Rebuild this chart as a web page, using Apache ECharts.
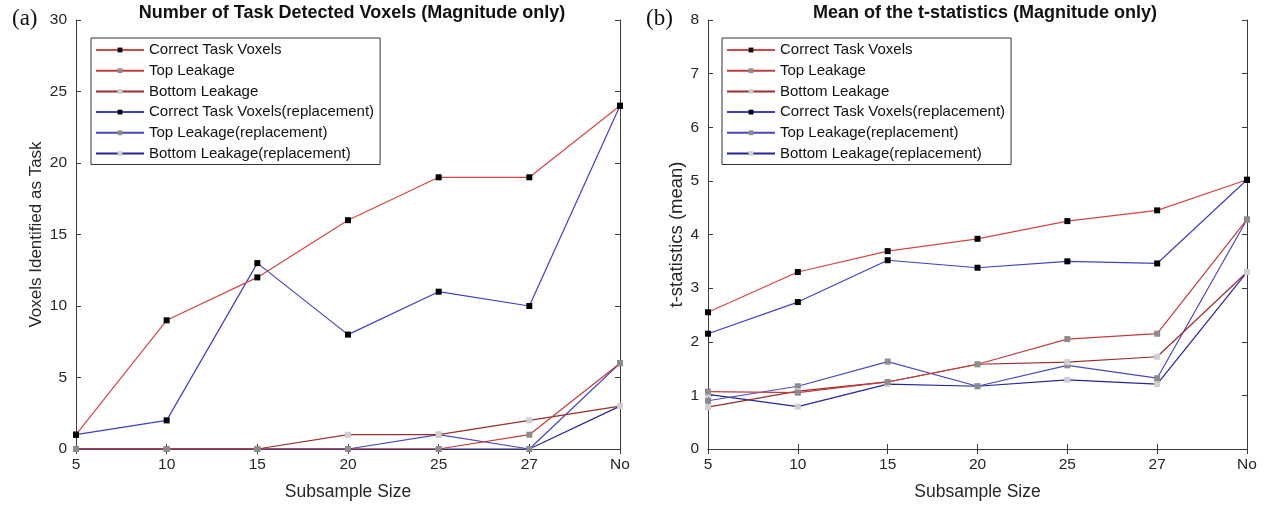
<!DOCTYPE html>
<html>
<head>
<meta charset="utf-8">
<script src="https://cdn.jsdelivr.net/npm/echarts@6/dist/echarts.min.js"></script>
<style>
  html, body { margin: 0; padding: 0; background: #fff; }
  #chart { width: 1276px; height: 506px; }
</style>
</head>
<body>
<div id="chart"></div>
<script>
// Subsample sizes shared by both panels
const categories = ['5', '10', '15', '20', '25', '27', 'No'];

// Panel (a): number of detected voxels
const countCorrect = [1, 9, 12, 16, 19, 19, 24];
const countTop = [0, 0, 0, 0, 0, 1, 6];
const countBottom = [0, 0, 0, 1, 1, 2, 3];
const countCorrectRep = [1, 2, 13, 8, 11, 10, 24];
const countTopRep = [0, 0, 0, 0, 1, 0, 6];
const countBottomRep = [0, 0, 0, 0, 0, 0, 3];

// Panel (b): mean t-statistics
const tCorrect = [2.55, 3.30, 3.69, 3.92, 4.25, 4.45, 5.02];
const tTop = [1.07, 1.05, 1.25, 1.58, 2.05, 2.15, 4.28];
const tBottom = [0.78, 1.08, 1.25, 1.58, 1.62, 1.72, 3.30];
const tCorrectRep = [2.15, 2.74, 3.52, 3.38, 3.50, 3.46, 5.02];
const tTopRep = [0.90, 1.17, 1.63, 1.17, 1.56, 1.32, 4.28];
const tBottomRep = [1.02, 0.79, 1.21, 1.17, 1.29, 1.21, 3.30];

const seriesNames = [
  'Correct Task Voxels', 'Top Leakage', 'Bottom Leakage',
  'Correct Task Voxels(replacement)', 'Top Leakage(replacement)', 'Bottom Leakage(replacement)'
];
const lineColors = ['#d64545', '#c23c3c', '#9a2e2a', '#3f3fc6', '#4848c0', '#25259a'];
const markColors = ['#000000', '#8c8c8c', '#cfcfcf', '#000000', '#8c8c8c', '#cfcfcf'];

const FONT = 'Liberation Sans';
const textColor = '#262626';
const axisColor = '#3a3a3a';

function makeSeries(dataList, idx) {
  return dataList.map((d, i) => ({
    name: seriesNames[i],
    type: 'line',
    xAxisIndex: idx * 2,
    yAxisIndex: idx * 2,
    data: d,
    symbol: 'rect',
    symbolSize: 6,
    showSymbol: true,
    lineStyle: { color: lineColors[i], width: 1.2 },
    itemStyle: { color: markColors[i], borderWidth: 0 },
    emphasis: { disabled: true },
    animation: false,
    z: 10 - i
  }));
}

function xAxes(gridIndex, name) {
  return [{
    gridIndex, type: 'category', data: categories, boundaryGap: false,
    position: 'bottom',
    name, nameLocation: 'middle', nameGap: 34,
    nameTextStyle: { fontFamily: FONT, fontSize: 17.5, color: textColor },
    axisLine: { show: true, lineStyle: { color: axisColor, width: 1 } },
    axisTick: { show: true, inside: true, length: 5, alignWithLabel: true, lineStyle: { color: axisColor } },
    axisLabel: { fontFamily: FONT, fontSize: 15.5, color: textColor, margin: 8, interval: 0 },
    splitLine: { show: false }
  }, {
    gridIndex, type: 'category', data: categories, boundaryGap: false,
    position: 'top',
    axisLine: { show: true, lineStyle: { color: axisColor, width: 1 } },
    axisTick: { show: true, inside: true, length: 5, alignWithLabel: true, lineStyle: { color: axisColor } },
    axisLabel: { show: false },
    splitLine: { show: false }
  }];
}

function yAxes(gridIndex, name, max, interval, nameSize, nameGap) {
  return [{
    gridIndex, type: 'value', min: 0, max, interval, position: 'left',
    name, nameLocation: 'middle', nameGap,
    nameTextStyle: { fontFamily: FONT, fontSize: nameSize, color: textColor },
    axisLine: { show: true, lineStyle: { color: axisColor, width: 1 } },
    axisTick: { show: true, inside: true, length: 5, lineStyle: { color: axisColor } },
    axisLabel: { fontFamily: FONT, fontSize: 15.5, color: textColor, margin: 9 },
    splitLine: { show: false }
  }, {
    gridIndex, type: 'value', min: 0, max, interval, position: 'right',
    axisLine: { show: true, lineStyle: { color: axisColor, width: 1 } },
    axisTick: { show: true, inside: true, length: 5, lineStyle: { color: axisColor } },
    axisLabel: { show: false },
    splitLine: { show: false }
  }];
}

function legend(left) {
  return {
    left, top: 38, orient: 'vertical',
    data: seriesNames,
    backgroundColor: '#ffffff',
    borderColor: '#333333', borderWidth: 1, borderRadius: 0,
    padding: [4, 6, 3, 4],
    itemWidth: 48, itemHeight: 6, itemGap: 4.7,
    textStyle: { fontFamily: FONT, fontSize: 15, lineHeight: 16, color: '#111' },
    selectedMode: false
  };
}

const chart = echarts.init(document.getElementById('chart'), null, { renderer: 'canvas' });
chart.setOption({
  backgroundColor: '#ffffff',
  animation: false,
  title: [
    { text: 'Number of Task Detected Voxels (Magnitude only)', left: 347, top: -1, textAlign: 'center',
      textStyle: { fontFamily: FONT, fontSize: 18, fontWeight: 'bold', color: '#111' } },
    { text: 'Mean of the t-statistics (Magnitude only)', left: 980, top: -1, textAlign: 'center',
      textStyle: { fontFamily: FONT, fontSize: 18, fontWeight: 'bold', color: '#111' } },
    { text: '(a)', left: 7, top: 2,
      textStyle: { fontFamily: 'Liberation Serif', fontSize: 23, fontWeight: 'normal', color: '#111' } },
    { text: '(b)', left: 641, top: 2,
      textStyle: { fontFamily: 'Liberation Serif', fontSize: 23, fontWeight: 'normal', color: '#111' } }
  ],
  legend: [legend(91), legend(722)],
  grid: [
    { left: 76, right: 656, top: 20, bottom: 57 },
    { left: 708, right: 29, top: 20, bottom: 57 }
  ],
  xAxis: [...xAxes(0, 'Subsample Size'), ...xAxes(1, 'Subsample Size')],
  yAxis: [
    ...yAxes(0, 'Voxels Identified as Task', 30, 5, 17, 31),
    ...yAxes(1, 't-statistics (mean)', 8, 1, 18.5, 20)
  ],
  series: [
    ...makeSeries([countCorrect, countTop, countBottom, countCorrectRep, countTopRep, countBottomRep], 0),
    ...makeSeries([tCorrect, tTop, tBottom, tCorrectRep, tTopRep, tBottomRep], 1)
  ]
});
</script>
</body>
</html>
